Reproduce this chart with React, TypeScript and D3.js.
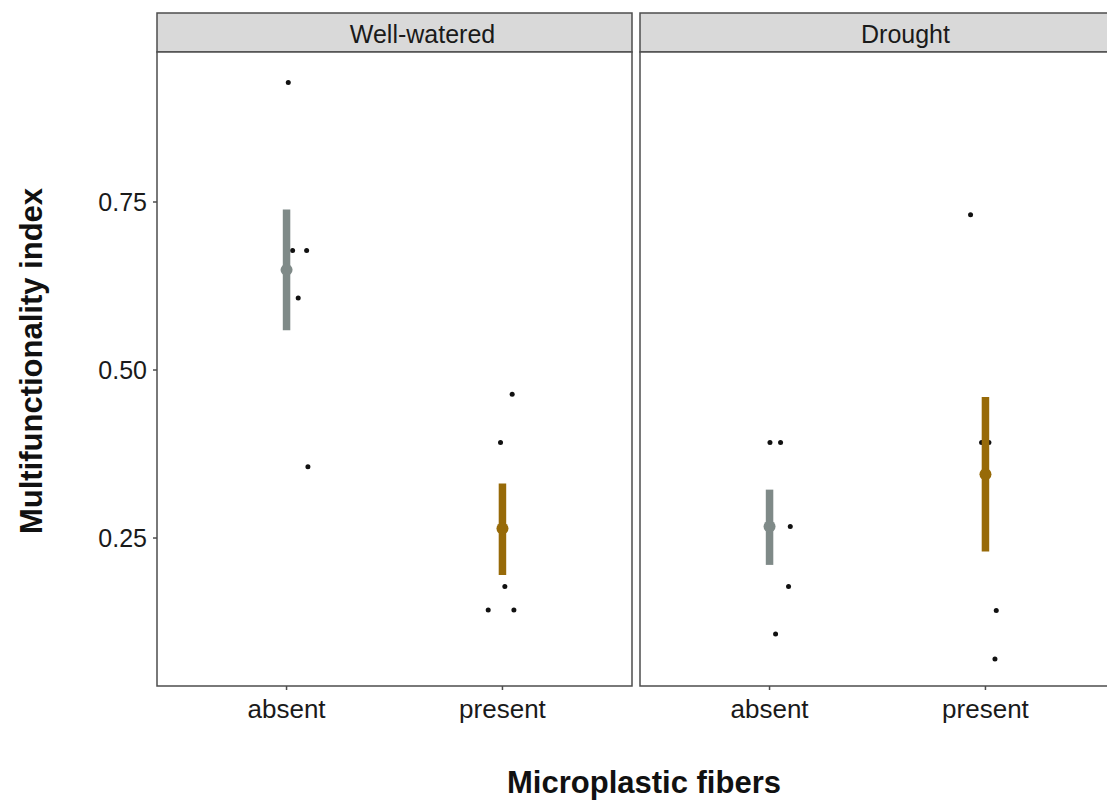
import React from "react";
import * as d3 from "d3";

// facets and x categories
const facets = ["Well-watered", "Drought"];
const fibers = ["absent", "present"];

// raw observations per facet / fiber level (with horizontal jitter, in category units)
const wwAbsent = [0.928, 0.678, 0.678, 0.607, 0.356];
const wwAbsentJit = [0.008, 0.028, 0.093, 0.054, 0.099];
const wwPresent = [0.464, 0.392, 0.178, 0.143, 0.143];
const wwPresentJit = [0.045, -0.009, 0.011, -0.066, 0.053];
const drAbsent = [0.392, 0.392, 0.267, 0.178, 0.107];
const drAbsentJit = [0.002, 0.051, 0.096, 0.088, 0.028];
const drPresent = [0.731, 0.392, 0.392, 0.142, 0.07];
const drPresentJit = [-0.069, -0.018, 0.016, 0.05, 0.044];

// mean +/- se, ordered Well-watered absent, present, Drought absent, present
const means = [0.649, 0.264, 0.267, 0.345];
const lower = [0.559, 0.195, 0.21, 0.23];
const upper = [0.739, 0.331, 0.322, 0.46];

const yTicks = [0.25, 0.5, 0.75];
const fiberColors = ["#7f8a88", "#976a08"];

const W = 1107;
const H = 800;

export default function App() {
  const panelW = 475;
  const panelTop = 52;
  const panelBottom = 686;
  const stripTop = 13;
  const panelLefts = [157, 640];
  const font = "'Liberation Sans', Arial, sans-serif";

  const y = d3.scaleLinear().domain([0.0298, 0.9732]).range([panelBottom, panelTop]);
  const x = d3.scalePoint<string>().domain(fibers).range([0, panelW]).padding(0.6);
  const step = x.step();

  const raw = [
    [
      { v: wwAbsent, j: wwAbsentJit },
      { v: wwPresent, j: wwPresentJit },
    ],
    [
      { v: drAbsent, j: drAbsentJit },
      { v: drPresent, j: drPresentJit },
    ],
  ];

  return (
    <svg
      width={W}
      height={H}
      style={{ position: "absolute", left: 0, top: 0, background: "#fff" }}
      fontFamily={font}
    >
      {facets.map((f, fi) => {
        const left = panelLefts[fi];
        return (
          <g key={f} transform={`translate(${left},0)`}>
            {/* strip */}
            <rect
              x={0}
              y={stripTop}
              width={panelW}
              height={panelTop - stripTop}
              fill="#d9d9d9"
              stroke="#4d4d4d"
              strokeWidth={1.5}
            />
            <text x={panelW / 2 + 28} y={42.5} textAnchor="middle" fontSize={25} fill="#1a1a1a">
              {f}
            </text>
            {/* panel */}
            <rect x={0} y={panelTop} width={panelW} height={panelBottom - panelTop} fill="#fff" stroke="#4d4d4d" strokeWidth={1.5} />
            {/* raw points */}
            {fibers.map((c, ci) =>
              raw[fi][ci].v.map((v, k) => (
                <circle
                  key={`${c}-${k}`}
                  cx={(x(c) as number) + raw[fi][ci].j[k] * step}
                  cy={y(v)}
                  r={2.5}
                  fill="#111"
                />
              ))
            )}
            {/* mean +/- se */}
            {fibers.map((c, ci) => {
              const idx = fi * 2 + ci;
              const cx = x(c) as number;
              return (
                <g key={`s-${c}`}>
                  <line x1={cx} x2={cx} y1={y(lower[idx])} y2={y(upper[idx])} stroke={fiberColors[ci]} strokeWidth={7.5} />
                  <circle cx={cx} cy={y(means[idx])} r={6} fill={fiberColors[ci]} />
                </g>
              );
            })}
            {/* x ticks */}
            {fibers.map((c) => (
              <g key={`t-${c}`} transform={`translate(${x(c)},${panelBottom})`}>
                <line y1={0} y2={4} stroke="#4d4d4d" strokeWidth={1.5} />
                <text y={32} textAnchor="middle" fontSize={26} fill="#1a1a1a">
                  {c}
                </text>
              </g>
            ))}
          </g>
        );
      })}
      {/* y axis ticks */}
      {yTicks.map((t) => (
        <g key={t} transform={`translate(${panelLefts[0]},${y(t)})`}>
          <line x1={-4} x2={0} stroke="#4d4d4d" strokeWidth={1.5} />
          <text x={-10} dy={9} textAnchor="end" fontSize={25} fill="#1a1a1a">
            {d3.format(".2f")(t)}
          </text>
        </g>
      ))}
      {/* axis titles */}
      <text x={644} y={793} textAnchor="middle" fontSize={31} fontWeight="bold" fill="#111">
        Microplastic fibers
      </text>
      <text
        transform={`translate(42,361) rotate(-90)`}
        textAnchor="middle"
        fontSize={31}
        fontWeight="bold"
        fill="#111"
      >
        Multifunctionality index
      </text>
    </svg>
  );
}
